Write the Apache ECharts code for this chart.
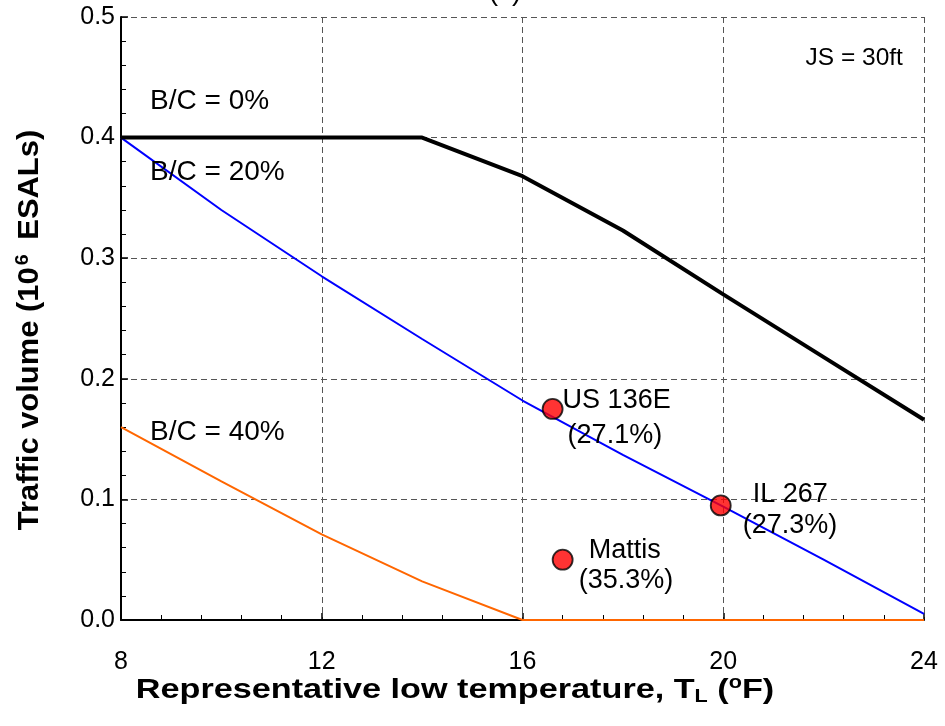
<!DOCTYPE html>
<html>
<head>
<meta charset="utf-8">
<script src="https://cdn.jsdelivr.net/npm/echarts@6/dist/echarts.min.js"></script>
<style>html,body{margin:0;padding:0;background:#fff}#c{width:945px;height:726px}</style>
</head>
<body>
<div id="c"></div>
<script>
// ---- data ----
var xTemps = [8, 10, 12, 14, 16, 18, 20, 22, 24];
var bc0 = [0.4, 0.4, 0.4, 0.4, 0.368, 0.323, 0.27, 0.218, 0.166];
var bc20 = [0.4, 0.34, 0.285, 0.233, 0.182, 0.137, 0.094, 0.05, 0.005];
var bc40 = [0.16, 0.115, 0.071, 0.032, 0.0, 0.0, 0.0, 0.0, 0.0];
var siteNames = ['US 136E', 'IL 267', 'Mattis'];
var siteBC = ['(27.1%)', '(27.3%)', '(35.3%)'];
var siteX = [16.6, 19.95, 16.8];
var siteY = [0.175, 0.095, 0.05];
var curveLabels = ['B/C = 0%', 'B/C = 20%', 'B/C = 40%'];
var curveLabelX = [8.58, 8.58, 8.58];
var curveLabelY = [0.430, 0.371, 0.156];
var jsLabel = 'JS = 30ft';
var xTicks = [8, 12, 16, 20, 24];
var yTicks = [0, 0.1, 0.2, 0.3, 0.4, 0.5];

var FONT = 'Liberation Sans, Arial, sans-serif';
function pairs(xs, ys){ return xs.map(function(x,i){return [x, ys[i]];}); }

var chart = echarts.init(document.getElementById('c'), null, {renderer:'canvas'});
var gridDash = {color:'#555', type:[6,4], width:1};
var option = {
  animation:false,
  backgroundColor:'#fff',
  grid:{left:121, right:21, top:17, bottom:106, containLabel:false},
  xAxis:{
    type:'value', min:8, max:24, interval:4,
    axisLine:{show:true, onZero:false, lineStyle:{color:'#000', width:2}},
    axisTick:{show:true, inside:true, length:7, lineStyle:{color:'#000', width:1.5}},
    minorTick:{show:true, splitNumber:5, length:5, lineStyle:{color:'#000', width:1}},
    splitLine:{show:true, lineStyle:gridDash},
    axisLabel:{fontFamily:FONT, fontSize:25, color:'#000', margin:30,
      formatter:function(v){return xTicks.indexOf(v)>=0 ? String(v) : '';}}
  },
  yAxis:{
    type:'value', min:0, max:0.5, interval:0.1,
    axisLine:{show:true, onZero:false, lineStyle:{color:'#000', width:2}},
    axisTick:{show:true, inside:true, length:7, lineStyle:{color:'#000', width:1.5}},
    minorTick:{show:true, splitNumber:5, length:5, lineStyle:{color:'#000', width:1}},
    splitLine:{show:true, lineStyle:gridDash},
    axisLabel:{fontFamily:FONT, fontSize:25, color:'#000', margin:6,
      formatter:function(v){return v.toFixed(1);}}
  },
  series:[
    {type:'line', data:pairs(xTemps, bc40), showSymbol:false, symbol:'none',
     lineStyle:{color:'#FF6600', width:2}, z:3},
    {type:'line', data:pairs(xTemps, bc20), showSymbol:false, symbol:'none',
     lineStyle:{color:'#0000FF', width:2}, z:4},
    {type:'line', data:pairs(xTemps, bc0), showSymbol:false, symbol:'none',
     lineStyle:{color:'#000', width:4}, z:5},
    {type:'scatter', data:pairs(siteX, siteY), symbol:'circle', symbolSize:20,
     itemStyle:{color:'#FF0000', borderColor:'#000', borderWidth:1.8}, z:10}
  ]
};
chart.setOption(option);

// annotations placed from data coordinates
var siteOffsets = [[[10,-8],[15,27]], [[32,-11],[22,20]], [[26,-9],[16,21]]];
var g = [];
function txt(x, y, s, size){
  return {type:'text', x:x, y:y, z:100,
    style:{text:s, fontFamily:FONT, fontSize:size, fill:'#000', textAlign:'left', textVerticalAlign:'middle'}};
}
curveLabels.forEach(function(s,i){
  var p = chart.convertToPixel({gridIndex:0}, [curveLabelX[i], curveLabelY[i]]);
  g.push(txt(p[0], p[1], s, 28));
});
var pj = chart.convertToPixel({gridIndex:0}, [23.58, 0.466]);
var jt = txt(pj[0], pj[1], jsLabel, 24.5); jt.style.textAlign='right'; g.push(jt);
siteNames.forEach(function(s,i){
  var p = chart.convertToPixel({gridIndex:0}, [siteX[i], siteY[i]]);
  var o = siteOffsets[i];
  g.push(txt(p[0]+o[0][0], p[1]+o[0][1], s, 27));
  g.push(txt(p[0]+o[1][0], p[1]+o[1][1], siteBC[i], 27));
});
// cut-off panel title at top
g.push({type:'text', x:505, y:-22, style:{text:'(c)', fontFamily:FONT, fontSize:28, fill:'#000', textAlign:'center', textVerticalAlign:'top'}});
// y axis title
g.push({type:'text', x:30, y:330, rotation:Math.PI/2, scaleX:1.03,
  style:{text:'{b|Traffic volume (10}{s|6}{b| ESALs)}', textAlign:'center', textVerticalAlign:'middle',
    rich:{b:{fontFamily:FONT, fontSize:30, fontWeight:'bold', fill:'#000'},
          s:{fontFamily:FONT, fontSize:19, fontWeight:'bold', fill:'#000', verticalAlign:'top', padding:[0,6,14,2]}}}});
// x axis title
g.push({type:'text', x:455, y:690, scaleX:1.2,
  style:{text:'{b|Representative low temperature, T}{sub|L}{b| (}{sup|o}{b|F)}', textAlign:'center', textVerticalAlign:'middle',
    rich:{b:{fontFamily:FONT, fontSize:28.5, fontWeight:'bold', fill:'#000'},
          sub:{fontFamily:FONT, fontSize:18, fontWeight:'bold', fill:'#000', padding:[14,0,0,0]},
          sup:{fontFamily:FONT, fontSize:18, fontWeight:'bold', fill:'#000', padding:[0,0,14,0]}}}});
chart.setOption({graphic:g});
</script>
</body>
</html>
